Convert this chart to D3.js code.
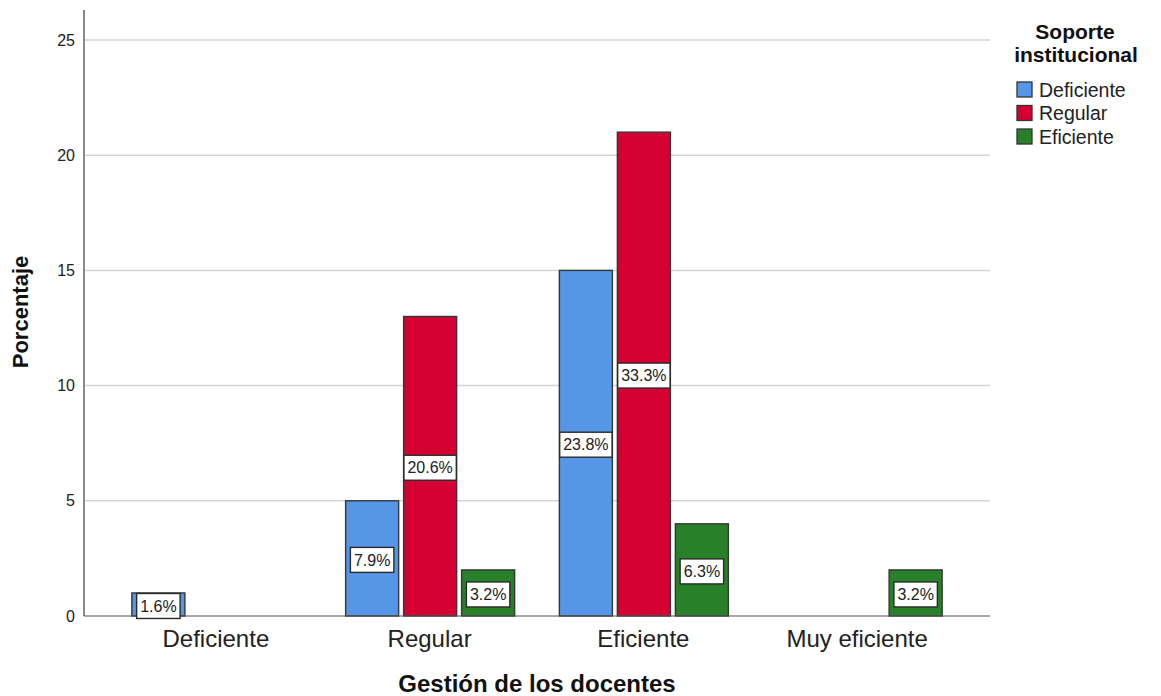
<!DOCTYPE html>
<html><head><meta charset="utf-8">
<script src="https://cdn.jsdelivr.net/npm/d3@7"></script>
<style>body{margin:0;background:#fff;}svg{display:block;font-family:Arial,"Liberation Sans",sans-serif;}</style>
</head><body>
<svg id="chart" width="1161" height="696"></svg>
<script>
const categories = ["Deficiente", "Regular", "Eficiente", "Muy eficiente"];
const seriesNames = ["Deficiente", "Regular", "Eficiente"];
const deficienteValues = [1, 5, 15, 0];
const regularValues = [0, 13, 21, 0];
const eficienteValues = [0, 2, 4, 2];
const deficienteLabels = ["1.6%", "7.9%", "23.8%", ""];
const regularLabels = ["", "20.6%", "33.3%", ""];
const eficienteLabels = ["", "3.2%", "6.3%", "3.2%"];
const yTicks = [0, 5, 10, 15, 20, 25];
const colors = ["#5596e6", "#d40031", "#288028"];

const svg = d3.select("#chart");
const plotLeft = 84, plotRight = 990, plotTop = 10, plotBottom = 616;
const x = d3.scaleBand().domain(categories).range([109, 964]);
const xs = d3.scaleBand().domain(seriesNames).range([-84, 85]).paddingInner(0.086).paddingOuter(0);
const y = d3.scaleLinear().domain([0, 25]).range([plotBottom, 40]);

// grid
svg.append("g").selectAll("line").data(yTicks.filter(d => d > 0)).join("line")
  .attr("x1", plotLeft).attr("x2", plotRight).attr("y1", d => y(d)).attr("y2", d => y(d))
  .attr("stroke", "#d5d5d5").attr("stroke-width", 1.5);

const series = [
  {name: seriesNames[0], values: deficienteValues, labels: deficienteLabels, color: colors[0]},
  {name: seriesNames[1], values: regularValues, labels: regularLabels, color: colors[1]},
  {name: seriesNames[2], values: eficienteValues, labels: eficienteLabels, color: colors[2]}
];
const items = [];
series.forEach(s => categories.forEach((c, i) => {
  if (s.values[i] > 0) items.push({cat: c, name: s.name, v: s.values[i], label: s.labels[i], color: s.color});
}));
const cx = d => x(d.cat) + x.bandwidth() / 2 + xs(d.name);

svg.append("g").selectAll("rect").data(items).join("rect")
  .attr("x", d => cx(d)).attr("width", xs.bandwidth())
  .attr("y", d => y(d.v)).attr("height", d => y(0) - y(d.v))
  .attr("fill", d => d.color).attr("stroke", "#363636").attr("stroke-width", 1.4);

// axes
svg.append("line").attr("x1", plotLeft).attr("x2", plotLeft).attr("y1", plotTop).attr("y2", plotBottom)
  .attr("stroke", "#8a8a8a").attr("stroke-width", 2);
svg.append("line").attr("x1", plotLeft).attr("x2", plotRight).attr("y1", plotBottom).attr("y2", plotBottom)
  .attr("stroke", "#555").attr("stroke-width", 1.2);

svg.append("g").selectAll("text").data(yTicks).join("text")
  .attr("x", 75).attr("y", d => y(d)).attr("dy", "0.35em").attr("text-anchor", "end")
  .attr("font-size", 16).attr("fill", "#222").text(d => d);

svg.append("g").selectAll("text").data(categories).join("text")
  .attr("x", d => x(d) + x.bandwidth() / 2).attr("y", 647).attr("text-anchor", "middle")
  .attr("font-size", 24).attr("fill", "#222").text(d => d);

svg.append("text").attr("x", 537).attr("y", 692).attr("text-anchor", "middle")
  .attr("font-size", 24).attr("font-weight", "bold").attr("fill", "#111").text("Gestión de los docentes");
svg.append("text").attr("transform", "translate(28,312) rotate(-90)").attr("text-anchor", "middle")
  .attr("font-size", 22).attr("font-weight", "bold").attr("fill", "#111").text("Porcentaje");

// labels
const lg = svg.append("g").selectAll("g").data(items).join("g")
  .attr("transform", d => `translate(${cx(d) + xs.bandwidth() / 2},${y(d.v / 2)})`);
lg.each(function(d) {
  const g = d3.select(this);
  const t = g.append("text").attr("text-anchor", "middle").attr("y", 1.5).attr("dy", "0.35em")
    .attr("font-size", 16).attr("fill", "#222").text(d.label);
  const w = t.node().getComputedTextLength() + 7;
  g.insert("rect", "text").attr("x", -w / 2).attr("y", -11).attr("width", w).attr("height", 25)
    .attr("fill", "#fff").attr("stroke", "#2a2a2a").attr("stroke-width", 1.4);
});

// legend
const leg = svg.append("g");
leg.append("text").attr("x", 1075).attr("y", 39).attr("text-anchor", "middle")
  .attr("font-size", 21).attr("font-weight", "bold").attr("fill", "#111").text("Soporte");
leg.append("text").attr("x", 1076).attr("y", 62).attr("text-anchor", "middle")
  .attr("font-size", 21).attr("font-weight", "bold").attr("fill", "#111").text("institucional");
const li = leg.selectAll("g").data(series).join("g")
  .attr("transform", (d, i) => `translate(1017,${82 + i * 23.5})`);
li.append("rect").attr("width", 15).attr("height", 15).attr("fill", d => d.color)
  .attr("stroke", "#333").attr("stroke-width", 1.3);
li.append("text").attr("x", 22).attr("y", 8).attr("dy", "0.35em").attr("font-size", 19.5)
  .attr("fill", "#222").text(d => d.name);
</script>
</body></html>
